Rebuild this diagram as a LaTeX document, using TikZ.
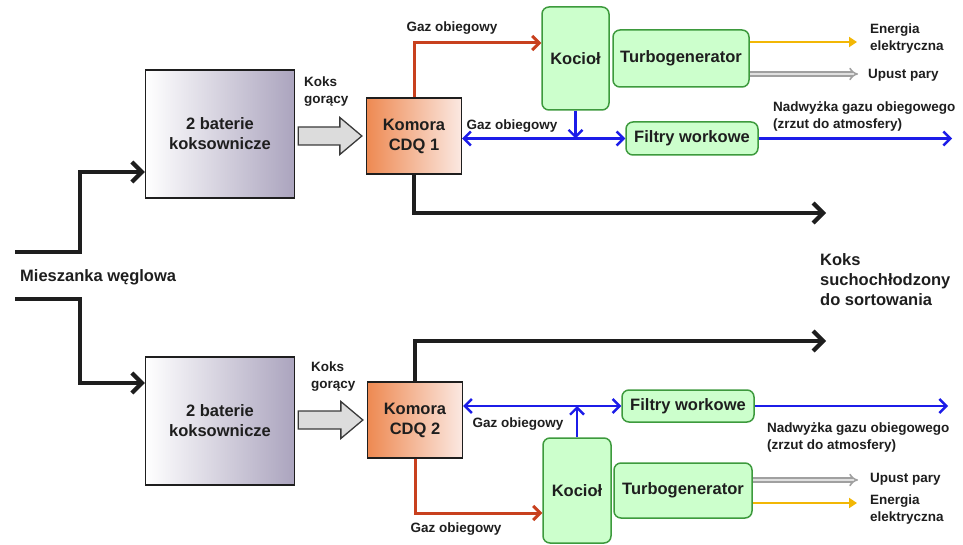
\documentclass[tikz,border=0pt]{standalone}
\usepackage{fontspec}
\setmainfont{Liberation Sans}
\usetikzlibrary{arrows.meta,calc}

\definecolor{ink}{HTML}{1E1E1E}
\definecolor{battR}{HTML}{ABA4BE}
\definecolor{cdqL}{HTML}{EE8A52}
\definecolor{cdqR}{HTML}{FBE8E2}
\definecolor{unitfill}{HTML}{CCFFCC}
\definecolor{unitline}{HTML}{3D9A3D}
\definecolor{hotred}{HTML}{C8401E}
\definecolor{gasblue}{HTML}{1C1CE8}
\definecolor{powery}{HTML}{F2B705}
\definecolor{steamg}{HTML}{A0A0A0}
\definecolor{cokefill}{HTML}{DCDCDC}
\definecolor{cokeline}{HTML}{3A3A3A}

\tikzset{
  big/.style={font=\fontsize{16.5}{20}\selectfont\bfseries, text=ink, align=center},
  lbl/.style={font=\fontsize{13.5}{17}\selectfont\bfseries, text=ink, align=left, inner sep=0pt},
  battery/.style={big, draw=ink, line width=1.3pt, left color=white, right color=battR,
    minimum width=149pt, minimum height=128pt, inner sep=0pt},
  chamber/.style={big, draw=ink, line width=1.3pt, left color=cdqL, right color=cdqR,
    minimum width=95pt, minimum height=76pt, inner sep=0pt},
  unit/.style={big, draw=unitline, fill=unitfill, line width=1.5pt, rounded corners=7pt, inner sep=0pt},
  coal/.style={draw=ink, line width=4.2pt, -{Straight Barb[length=10pt,width=20pt]}},
  hot/.style={draw=hotred, line width=3pt, -{Straight Barb[length=7pt,width=14pt]}},
  gas/.style={draw=gasblue, line width=2.4pt},
  gastip/.tip={Straight Barb[length=7pt,width=14pt]},
  power/.style={draw=powery, line width=2.4pt, -{Triangle[length=8pt,width=10pt]}},
  steam/.style={draw=steamg, line width=1.6pt, double=white!88!black, double distance=2.6pt, -{Implies}},
  cokearrow/.style={fill=cokefill, draw=cokeline, line width=1.3pt, line join=miter},
}

% hollow "hot coke" arrow between a battery and its chamber
\newcommand{\cokearrow}[2]{%
  \path let \p1=(#1.east), \p2=(#2.west) in
    [cokearrow] (\x1+3pt,\y2+9pt) -- (\x2-26pt,\y2+9pt) -- (\x2-26pt,\y2+18.5pt)
    -- (\x2-4pt,\y2) -- (\x2-26pt,\y2-18.5pt) -- (\x2-26pt,\y2-9pt)
    -- (\x1+3pt,\y2-9pt) -- cycle;}

\begin{document}
\begin{tikzpicture}[x=1pt,y=-1pt]
\useasboundingbox (0,0) rectangle (963,545);

% ---------- upper line ----------
\node[battery] (B1) at (220,134) {2 baterie\\koksownicze};
\node[chamber] (K1) at (414,136) {Komora\\CDQ 1};
\node[unit, minimum width=67pt, minimum height=103pt] (Ko1) at (575.5,58.5) {Kocioł};
\node[unit, minimum width=136pt, minimum height=57pt] (T1) at (681,58.5) {Turbogenerator};
\node[unit, minimum width=132pt, minimum height=33pt] (F1) at (692,138.5) {Filtry workowe};

% ---------- lower line ----------
\node[battery] (B2) at (220,421) {2 baterie\\koksownicze};
\node[chamber] (K2) at (415,420) {Komora\\CDQ 2};
\node[unit, minimum width=68pt, minimum height=105pt] (Ko2) at (577,490.5) {Kocioł};
\node[unit, minimum width=138pt, minimum height=55pt] (T2) at (683,490.5) {Turbogenerator};
\node[unit, minimum width=132pt, minimum height=32pt] (F2) at (688,406) {Filtry workowe};

% free ends of the outgoing streams
\coordinate (in1) at (15,252);
\coordinate (in2) at (15,299);
\coordinate (out1) at (826,213);
\coordinate (out2) at (826,341);
\coordinate (pw1) at (857,42);
\coordinate (st1) at (858,74);
\coordinate (ex1) at (952,138.5);
\coordinate (st2) at (858,480);
\coordinate (pw2) at (857,503);
\coordinate (ex2) at (948,406);

% coal blend feed
\draw[coal] (in1) -- (80,252) |- ([yshift=-38pt]B1.west);
\draw[coal] (in2) -- (80,299) |- ([yshift=38pt]B2.west);
\node[big, anchor=west, inner sep=0pt] (mix) at (20,277) {Mieszanka węglowa};

% hot coke into the chambers
\cokearrow{B1}{K1}
\cokearrow{B2}{K2}
\node[lbl, anchor=west] (kg1) at (304,91.5) {Koks\\gorący};
\node[lbl, anchor=west] (kg2) at (311,377) {Koks\\gorący};

% dry-quenched coke out
\draw[coal] (K1.south) |- (out1);
\draw[coal] (K2.north) |- (out2);
\node[big, anchor=west, inner sep=0pt, align=left] (dry) at (820,280) {Koks\\suchochłodzony\\do sortowania};

% hot circulating gas to the boilers
\draw[hot] (K1.north) |- ([yshift=15.5pt]Ko1.west);
\draw[hot] (K2.south) |- ([yshift=-22.5pt]Ko2.west);
\node[lbl] (g1) at (452,28) {Gaz obiegowy};
\node[lbl] (g4) at (456,529) {Gaz obiegowy};

% cooled gas loop and filters
\draw[gas, {gastip}-{gastip}] (K1.east |- F1.west) -- (F1.west);
\draw[gas, -{gastip}] (Ko1.south) -- (Ko1.south |- F1.west);
\draw[gas, -{gastip}] (F1.east) -- (ex1);
\node[lbl] (g2) at (512,126) {Gaz obiegowy};
\node[lbl, anchor=west] (n1) at (773,116.5) {Nadwyżka gazu obiegowego\\(zrzut do atmosfery)};

\draw[gas, {gastip}-{gastip}] (K2.east |- F2.west) -- (F2.west);
\draw[gas, -{gastip}] (Ko2.north) -- (Ko2.north |- F2.west);
\draw[gas, -{gastip}] (F2.east) -- (ex2);
\node[lbl] (g3) at (518,424) {Gaz obiegowy};
\node[lbl, anchor=west] (n2) at (767,437.5) {Nadwyżka gazu obiegowego\\(zrzut do atmosfery)};

% turbogenerator outputs
\draw[power] ([yshift=16.5pt]T1.east) -- (pw1);
\draw[steam] ([yshift=-15.5pt]T1.east) -- (st1);
\node[lbl, anchor=west] (e1) at (870,38.5) {Energia\\elektryczna};
\node[lbl, anchor=west] (u1) at (868,75) {Upust pary};

\draw[steam] ([yshift=10.5pt]T2.east) -- (st2);
\draw[power] ([yshift=-12.5pt]T2.east) -- (pw2);
\node[lbl, anchor=west] (u2) at (870,479) {Upust pary};
\node[lbl, anchor=west] (e2) at (870,510) {Energia\\elektryczna};
\end{tikzpicture}
\end{document}
